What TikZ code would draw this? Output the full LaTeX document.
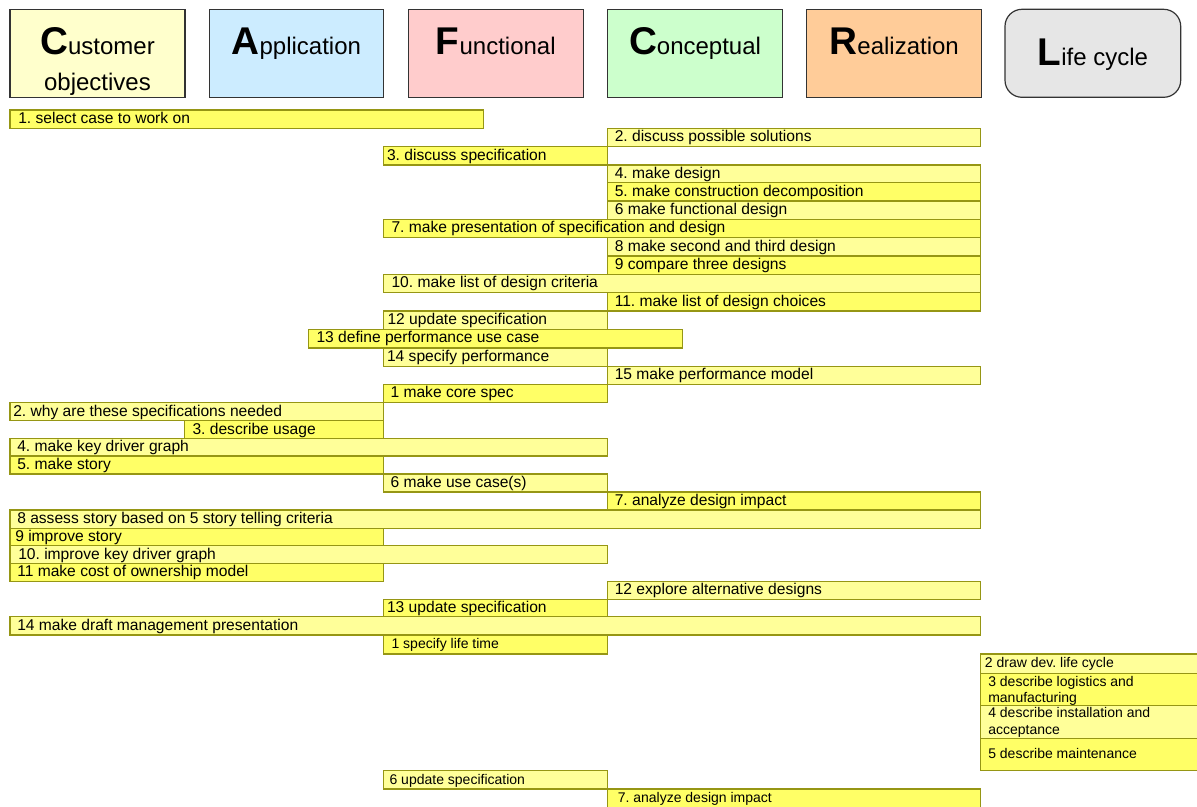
\documentclass[tikz,border=0pt]{standalone}
\usepackage{fontspec}
\setmainfont{Liberation Sans}
\frenchspacing

\definecolor{custfill}{RGB}{255,255,204}
\definecolor{applfill}{RGB}{204,236,255}
\definecolor{funcfill}{RGB}{255,204,204}
\definecolor{concfill}{RGB}{204,255,204}
\definecolor{realfill}{RGB}{255,204,153}
\definecolor{lifefill}{RGB}{230,230,230}
\definecolor{barlight}{RGB}{255,255,153}
\definecolor{barbright}{RGB}{255,255,102}
\definecolor{barline}{RGB}{150,150,20}

\tikzset{
  hdrbox/.style={draw=black!80, line width=0.9pt},
  hdrtext/.style={font=\fontsize{18}{20}\selectfont, inner sep=0pt, anchor=base},
  barl/.style={draw=barline, fill=barlight, line width=0.8pt},
  barb/.style={draw=barline, fill=barbright, line width=0.8pt},
  tasktext/.style={font=\fontsize{11.7}{13}\selectfont, inner sep=0pt},
  smalltext/.style={font=\fontsize{10.5}{12.5}\selectfont, inner sep=0pt, align=left},
}

% big first letter of a header
\newcommand{\hdrinit}[1]{{\fontsize{29}{30}\selectfont\bfseries #1}}

% \taskbar[text offset]{name}{bar style}{x1}{y1}{x2}{y2}{text}
\newcommand{\taskbar}[8][7]{%
  \draw[#3] (#4,#5) rectangle (#6,#7);%
  \node[tasktext, anchor=base west] (#2) at (#4+#1,#5+13.3) {#8};%
}
% same, small font
\newcommand{\smallbar}[8][7]{%
  \draw[#3] (#4,#5) rectangle (#6,#7);%
  \node[smalltext, anchor=base west] (#2) at (#4+#1,#5+13.3) {#8};%
}

\begin{document}
\begin{tikzpicture}[x=0.75pt, y=-0.75pt]
  \useasboundingbox (0,0) rectangle (1197,807);

  % Headers
  \draw[hdrbox, fill=custfill] (10,9.3) rectangle (185,97.3);
  \node[hdrtext] (custa) at (97.5,54.3) {\hdrinit{C}ustomer};
  \node[hdrtext] (custb) at (97.5,90) {objectives};

  \draw[hdrbox, fill=applfill] (209.3,9.3) rectangle (383.3,97.3);
  \node[hdrtext] (appl) at (296.3,54.3) {\hdrinit{A}pplication};

  \draw[hdrbox, fill=funcfill] (408.3,9.3) rectangle (583.3,97.3);
  \node[hdrtext] (func) at (495.8,54.3) {\hdrinit{F}unctional};

  \draw[hdrbox, fill=concfill] (607.7,9.3) rectangle (782.3,97.3);
  \node[hdrtext] (conc) at (695,54.3) {\hdrinit{C}onceptual};

  \draw[hdrbox, fill=realfill] (806.7,9.3) rectangle (981.7,97.3);
  \node[hdrtext] (real) at (894.2,54.3) {\hdrinit{R}ealization};

  \draw[hdrbox, fill=lifefill, rounded corners=12.75pt] (1005,9.3) rectangle (1180.7,97.3);
  \node[hdrtext] (life) at (1092.8,65.7) {\hdrinit{L}ife cycle};

  % First pass
  \taskbar[8]{ta}{barb}{10}{110}{483.3}{128.3}{1. select case to work on}
  \taskbar{tb}{barl}{607.5}{128.3}{980.7}{146.7}{2. discuss possible solutions}
  \taskbar[3.5]{tc}{barb}{383.3}{146.7}{607.5}{165}{3. discuss specification}
  \taskbar{td}{barl}{607.5}{165}{980.7}{182.7}{4. make design}
  \taskbar{te}{barb}{607.5}{182.7}{980.7}{201}{5. make construction decomposition}
  \taskbar{tf}{barl}{607.5}{201}{980.7}{219.3}{6 make functional design}
  \taskbar[8]{tg}{barb}{383.3}{219.3}{980.7}{237.7}{7. make presentation of specification and design}
  \taskbar{th}{barl}{607.5}{237.7}{980.7}{256}{8 make second and third design}
  \taskbar{ti}{barb}{607.5}{256}{980.7}{274.3}{9 compare three designs}
  \taskbar[8]{tj}{barl}{383.3}{274.3}{980.7}{292.7}{10. make list of design criteria}
  \taskbar{tk}{barb}{607.5}{292.7}{980.7}{311}{11. make list of design choices}
  \taskbar[4]{tl}{barl}{383.3}{311}{607.5}{329.5}{12 update specification}
  \taskbar[8]{tm}{barb}{308.3}{329.5}{682.3}{348}{13 define performance use case}
  \taskbar[3.5]{tn}{barl}{383.3}{348}{607.5}{366.5}{14 specify performance}
  \taskbar{to}{barl}{607.5}{366.5}{980.7}{384.5}{15 make performance model}

  % Second pass
  \taskbar{ua}{barb}{383.3}{384.5}{607.5}{402.7}{1 make core spec}
  \taskbar[3]{ub}{barl}{10}{402.7}{383.3}{420.7}{2. why are these specifications needed}
  \taskbar[8]{uc}{barb}{184.3}{420.7}{383.3}{438.3}{3. describe usage}
  \taskbar{ud}{barl}{10}{438.3}{607.5}{456}{4. make key driver graph}
  \taskbar{ue}{barb}{10}{456}{383.3}{474}{5. make story}
  \taskbar{uf}{barl}{383.3}{474}{607.5}{492}{6 make use case(s)}
  \taskbar{ug}{barb}{607.5}{492}{980.7}{510}{7. analyze design impact}
  \taskbar{uh}{barl}{10}{510}{980.7}{528.3}{8 assess story based on 5 story telling criteria}
  \taskbar[5]{ui}{barb}{10}{528.3}{383.3}{545.7}{9 improve story}
  \taskbar[8]{uj}{barl}{10}{545.7}{607.5}{563.3}{10. improve key driver graph}
  \taskbar{uk}{barb}{10}{563.3}{383.3}{581.3}{11 make cost of ownership model}
  \taskbar{ul}{barl}{607.5}{581.3}{980.7}{599.3}{12 explore alternative designs}
  \taskbar[3.5]{um}{barb}{383.3}{599.3}{607.5}{616.8}{13 update specification}
  \taskbar{un}{barl}{10}{616.8}{980.7}{635}{14 make draft management presentation}

  % Life cycle pass
  \smallbar[8]{va}{barb}{383.3}{635}{607.5}{654}{1 specify life time}
  \smallbar[4]{vb}{barl}{980.7}{654}{1205}{673.3}{2 draw dev. life cycle}
  \draw[barb] (980.7,673.3) rectangle (1205,705.7);
  \node[smalltext, anchor=north west] (vc) at (988,675.6) {3 describe logistics and\\manufacturing};
  \draw[barl] (980.7,705.7) rectangle (1205,738.3);
  \node[smalltext, anchor=north west] (vd) at (988,707.2) {4 describe installation and\\acceptance};
  \draw[barb] (980.7,738.3) rectangle (1205,770.7);
  \node[smalltext, anchor=base west] (ve) at (988,758.3) {5 describe maintenance};
  \smallbar[6]{vf}{barl}{383.3}{770.7}{607.5}{789}{6 update specification}
  \smallbar[10]{vg}{barb}{607.5}{789}{980.7}{807.3}{7. analyze design impact}
\end{tikzpicture}
\end{document}
